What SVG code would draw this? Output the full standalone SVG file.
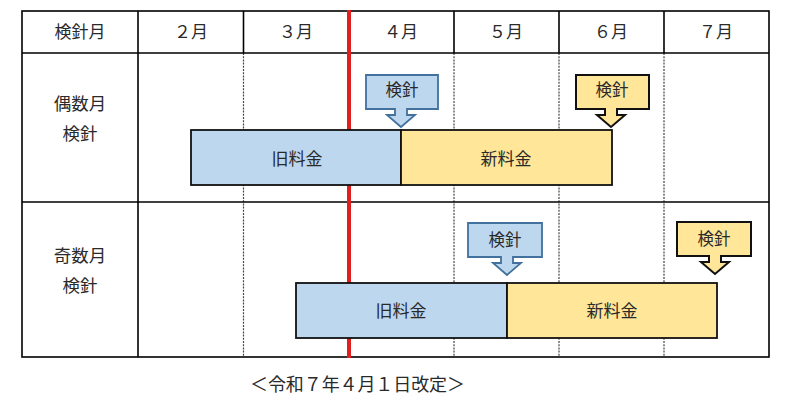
<svg xmlns="http://www.w3.org/2000/svg" width="786" height="402" viewBox="0 0 786 402">
<style>
  text { font-family: "Noto Sans CJK JP", "Noto Sans", sans-serif; fill: #2a2a2a; text-anchor: middle; }
  .hd { font-size: 17px; }
  .lb { font-size: 17.5px; }
  .bt { font-size: 17px; }
  .ct { font-size: 16.5px; }
  .grid { stroke: #000; stroke-width: 1.6; fill: none; }
  .dot { stroke: #444; stroke-width: 1.2; stroke-dasharray: 2 1.2; fill: none; }
  .old { fill: #BDD7EE; stroke: #111; stroke-width: 1.8; }
  .new { fill: #FFE699; stroke: #111; stroke-width: 1.8; }
  .cb { fill: #BDD7EE; stroke: #41719C; stroke-width: 1.8; stroke-linejoin: miter; }
  .cy { fill: #FFE699; stroke: #111; stroke-width: 2; stroke-linejoin: miter; }
</style>
<rect width="786" height="402" fill="#fff"/>
<g id="grid">
  <line class="dot" x1="243.5" y1="53" x2="243.5" y2="357"/>
  <line class="dot" x1="454" y1="53" x2="454" y2="357"/>
  <line class="dot" x1="559" y1="53" x2="559" y2="357"/>
  <line class="dot" x1="664" y1="53" x2="664" y2="357"/>
  <rect class="grid" x="22" y="11" width="747" height="346"/>
  <line class="grid" x1="22" y1="53" x2="769" y2="53"/>
  <line class="grid" x1="22" y1="202" x2="769" y2="202"/>
  <line class="grid" x1="138" y1="11" x2="138" y2="357"/>
  <line class="grid" x1="243.5" y1="11" x2="243.5" y2="53"/>
  <line class="grid" x1="454" y1="11" x2="454" y2="53"/>
  <line class="grid" x1="559" y1="11" x2="559" y2="53"/>
  <line class="grid" x1="664" y1="11" x2="664" y2="53"/>
  <line x1="349" y1="10" x2="349" y2="358" stroke="#E02020" stroke-width="4"/>
</g>
<g id="header">
  <text class="hd" x="80" y="38">検針月</text>
  <text class="hd" x="191" y="38">２月</text>
  <text class="hd" x="296" y="38">３月</text>
  <text class="hd" x="401" y="38">４月</text>
  <text class="hd" x="506" y="38">５月</text>
  <text class="hd" x="611" y="38">６月</text>
  <text class="hd" x="716" y="38">７月</text>
</g>
<g id="row-even-label">
  <text class="lb" x="80" y="110">偶数月</text>
  <text class="lb" x="80" y="140">検針</text>
</g>
<g id="row-odd-label">
  <text class="lb" x="80" y="261.5">奇数月</text>
  <text class="lb" x="80" y="292">検針</text>
</g>
<g id="even-old">
  <rect class="old" x="191" y="130" width="210" height="55"/>
  <text class="bt" x="297" y="165">旧料金</text>
</g>
<g id="even-new">
  <rect class="new" x="401" y="130" width="211" height="55"/>
  <text class="bt" x="506" y="165">新料金</text>
</g>
<g id="odd-old">
  <rect class="old" x="296" y="283" width="211" height="55"/>
  <text class="bt" x="401" y="316.5">旧料金</text>
</g>
<g id="odd-new">
  <rect class="new" x="507" y="283" width="210" height="55"/>
  <text class="bt" x="612" y="316.5">新料金</text>
</g>
<g id="connectors">
</g>
<g id="even-read-old">
  <path class="cb" d="M366,75 H438 V109 H407 V115 H415 L401,127 L387,115 H395 V109 H366 Z"/>
  <text class="ct" x="402" y="96">検針</text>
</g>
<g id="even-read-new">
  <path class="cy" d="M576,75 H649 V109 H617 V115 H625 L611,127 L597,115 H605 V109 H576 Z"/>
  <text class="ct" x="612" y="96">検針</text>
</g>
<g id="odd-read-old">
  <path class="cb" d="M468,223 H542 V257 H513 V263 H521 L507,275 L493,263 H501 V257 H468 Z"/>
  <text class="ct" x="505" y="246">検針</text>
</g>
<g id="odd-read-new">
  <path class="cy" d="M677,222 H751 V256 H721 V262 H729 L715,274 L701,262 H709 V256 H677 Z"/>
  <text class="ct" x="714" y="245">検針</text>
</g>
<g id="footer">
  <text x="357.5" y="391" style="font-size:18px" textLength="215" lengthAdjust="spacing">＜令和７年４月１日改定＞</text>
</g>
</svg>
